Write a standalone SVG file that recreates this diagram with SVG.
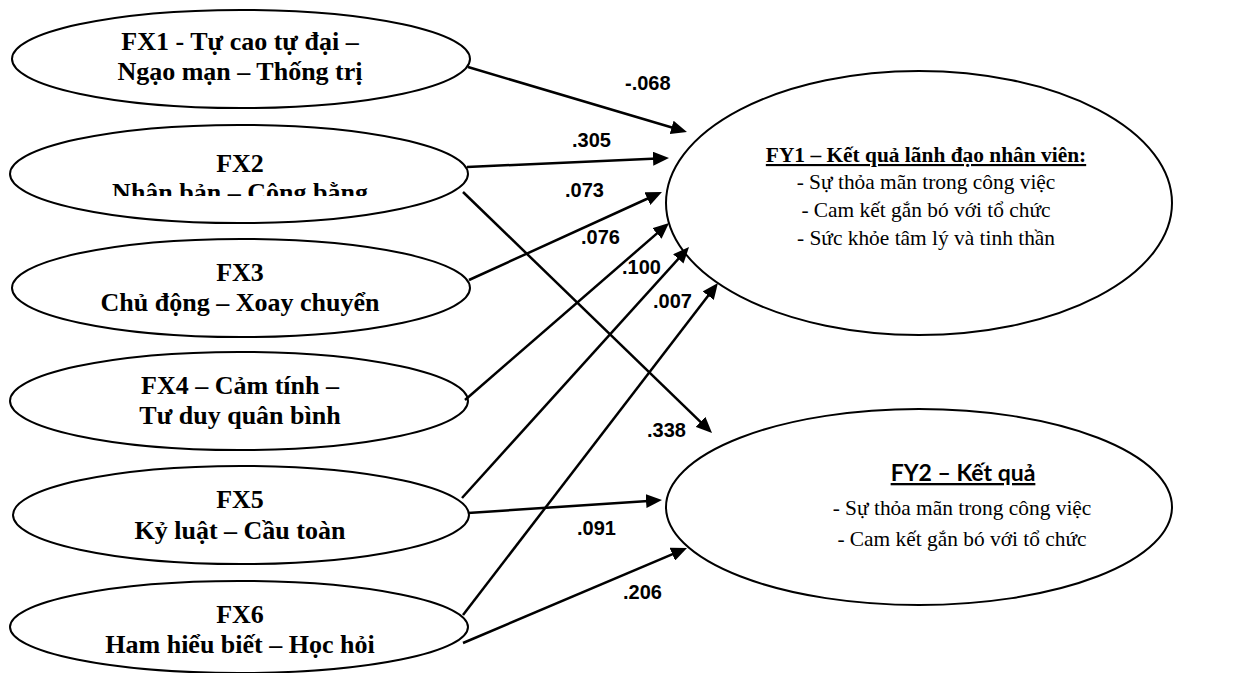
<svg xmlns="http://www.w3.org/2000/svg" width="1240" height="673" viewBox="0 0 1240 673">
<style>
.node{fill:#fff;stroke:#000;stroke-width:2}
.lt{font-family:"Liberation Serif","Times New Roman",serif;font-weight:bold;font-size:26px;text-anchor:middle;fill:#000}
.rt{font-family:"Liberation Serif","Times New Roman",serif;font-size:21.4px;text-anchor:middle;fill:#000}
.rb{font-family:"Liberation Serif","Times New Roman",serif;font-size:21.4px;font-weight:bold;text-anchor:middle;text-decoration:underline;fill:#000}
.sb{font-family:Lato,"Open Sans",sans-serif;font-size:23px;font-weight:bold;text-anchor:middle;text-decoration:underline;fill:#000}
.lab{font-family:"Liberation Sans",Arial,sans-serif;font-size:20px;font-weight:bold;fill:#000}
.con{stroke:#000;stroke-width:2.5;fill:none;marker-end:url(#ah)}
</style>
<defs>
<marker id="ah" viewBox="0 0 16 14" refX="10" refY="7" markerWidth="16" markerHeight="14" markerUnits="userSpaceOnUse" orient="auto">
<path d="M0,0 L16,7 L0,14 z" fill="#000"/>
</marker>
<clipPath id="fx2clip"><rect x="0" y="100" width="480" height="96"/></clipPath>
</defs>
<rect width="1240" height="673" fill="#fff"/>
<g id="FX1">
<ellipse class="node" cx="241" cy="59" rx="229" ry="49"/>
<text class="lt" x="240" y="50">FX1 - Tự cao tự đại –</text>
<text class="lt" x="240" y="80">Ngạo mạn – Thống trị</text>
</g>
<g id="FX2">
<ellipse class="node" cx="239" cy="174" rx="229" ry="49"/>
<g clip-path="url(#fx2clip)">
<text class="lt" x="240" y="172">FX2</text>
<text class="lt" x="240" y="201">Nhân bản – Công bằng</text>
</g>
</g>
<g id="FX3">
<ellipse class="node" cx="241" cy="288" rx="229" ry="49"/>
<text class="lt" x="240" y="281">FX3</text>
<text class="lt" x="240" y="311">Chủ động – Xoay chuyển</text>
</g>
<g id="FX4">
<ellipse class="node" cx="239" cy="401" rx="229" ry="49"/>
<text class="lt" x="240" y="394">FX4 – Cảm tính –</text>
<text class="lt" x="240" y="424">Tư duy quân bình</text>
</g>
<g id="FX5">
<ellipse class="node" cx="241" cy="515" rx="228" ry="49"/>
<text class="lt" x="240" y="508">FX5</text>
<text class="lt" x="240" y="539">Kỷ luật – Cầu toàn</text>
</g>
<g id="FX6">
<ellipse class="node" cx="239" cy="627" rx="229" ry="46"/>
<text class="lt" x="240" y="623">FX6</text>
<text class="lt" x="240" y="653">Ham hiểu biết – Học hỏi</text>
</g>
<g id="FY1">
<ellipse class="node" cx="919" cy="203" rx="253" ry="132"/>
<text class="rb" x="926" y="162">FY1 – Kết quả lãnh đạo nhân viên:</text>
<text class="rt" x="926" y="189">- Sự thỏa mãn trong công việc</text>
<text class="rt" x="926" y="217">- Cam kết gắn bó với tổ chức</text>
<text class="rt" x="926" y="245">- Sức khỏe tâm lý và tinh thần</text>
</g>
<g id="FY2">
<ellipse class="node" cx="919" cy="507" rx="253" ry="98"/>
<text class="sb" x="963" y="481">FY2 – Kết quả</text>
<text class="rt" x="962" y="515">- Sự thỏa mãn trong công việc</text>
<text class="rt" x="962" y="546">- Cam kết gắn bó với tổ chức</text>
</g>
<g id="connectors">
<line class="con" x1="468" y1="67" x2="681.2" y2="130.3"/>
<line class="con" x1="467" y1="167" x2="663" y2="158.3"/>
<line class="con" x1="469" y1="280" x2="656.5" y2="194.5"/>
<line class="con" x1="465" y1="400" x2="664.5" y2="226.9"/>
<line class="con" x1="462" y1="498" x2="685" y2="251.5"/>
<line class="con" x1="463" y1="615" x2="714.3" y2="287.8"/>
<line class="con" x1="463" y1="192" x2="707.7" y2="428.8"/>
<line class="con" x1="468" y1="513" x2="656" y2="500.4"/>
<line class="con" x1="463" y1="643" x2="681.5" y2="550.3"/>
<text class="lab" x="625" y="90">-.068</text>
<text class="lab" x="572" y="147">.305</text>
<text class="lab" x="565" y="197">.073</text>
<text class="lab" x="581" y="244">.076</text>
<text class="lab" x="622" y="274">.100</text>
<text class="lab" x="653" y="308">.007</text>
<text class="lab" x="647" y="437">.338</text>
<text class="lab" x="577" y="535">.091</text>
<text class="lab" x="623" y="599">.206</text>
</g>
</svg>
